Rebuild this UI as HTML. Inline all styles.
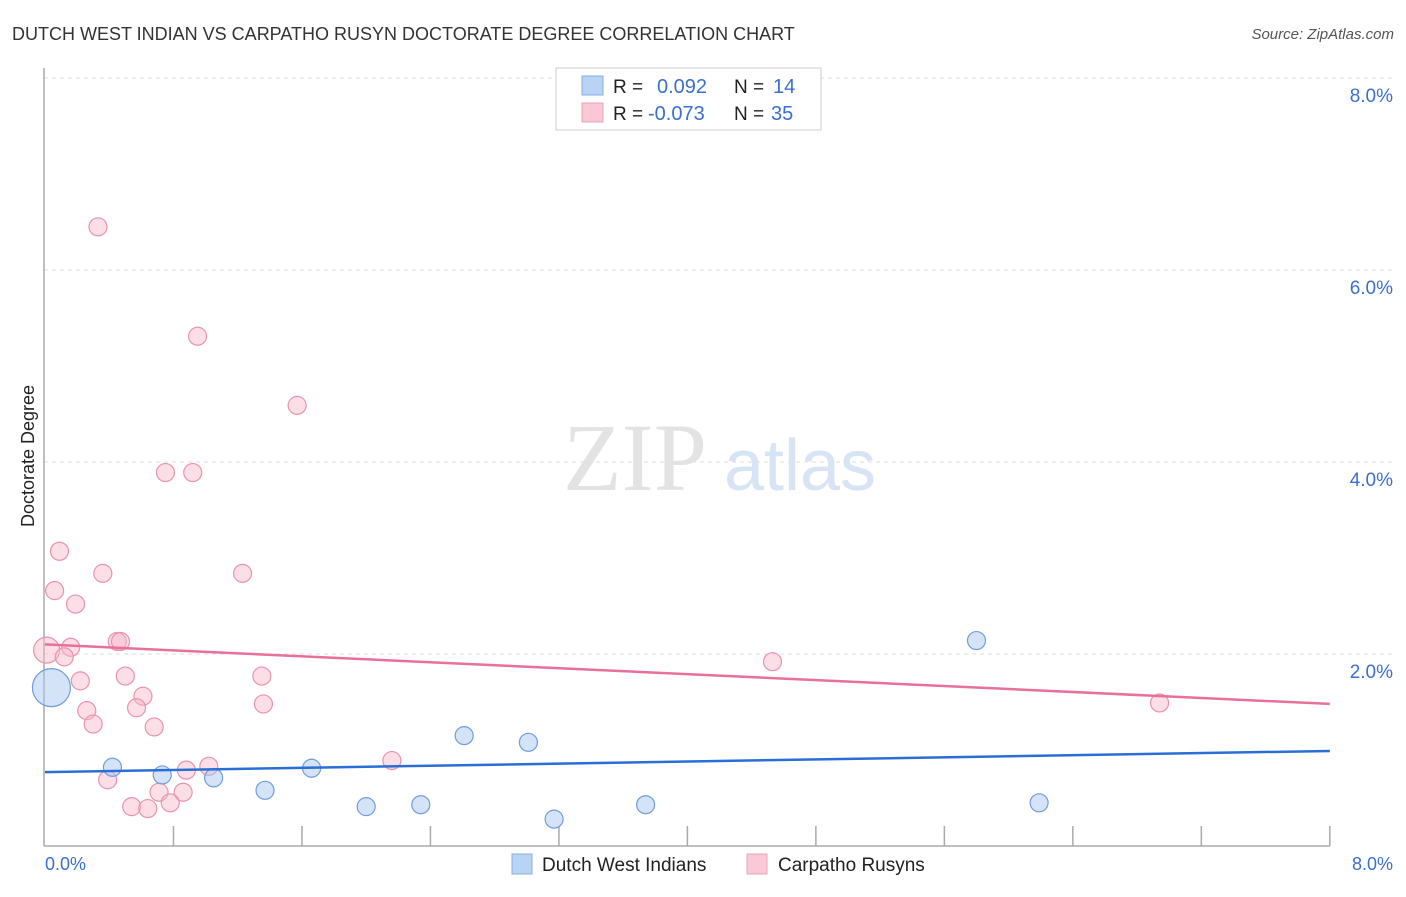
<!DOCTYPE html>
<html><head><meta charset="utf-8">
<style>
body{margin:0;background:#fff;font-family:"Liberation Sans",sans-serif;}
svg text{font-family:"Liberation Sans",sans-serif;}
</style></head>
<body>
<svg width="1406" height="892" viewBox="0 0 1406 892">
<text x="12" y="40" font-size="18" fill="#333">DUTCH WEST INDIAN VS CARPATHO RUSYN DOCTORATE DEGREE CORRELATION CHART</text>
<text x="1394" y="39" font-size="15" fill="#555" text-anchor="end" font-style="italic">Source: ZipAtlas.com</text>
<g id="grid"></g>
<g>
<text x="635" y="490" font-size="96" fill="#e3e3e3" text-anchor="middle" font-family="Liberation Serif" style="font-family:'Liberation Serif',serif">ZIP</text>
<text x="800" y="490" font-size="72" fill="#d6e4f5" text-anchor="middle">atlas</text>
</g>
<line x1="44" y1="68" x2="44" y2="846" stroke="#aaa" stroke-width="1.5"/>
<line x1="44" y1="846" x2="1330" y2="846" stroke="#aaa" stroke-width="1.5"/>
<g id="xticks"></g>
<g id="ylabels"></g>
<text x="45" y="870" font-size="18" fill="#3b6fd0">0.0%</text>
<text x="1393" y="870" font-size="18" fill="#3b6fd0" text-anchor="end">8.0%</text>
<text transform="translate(34,456) rotate(-90)" font-size="18" fill="#222" text-anchor="middle">Doctorate Degree</text>
<g id="pink"></g>
<g id="blue"></g>
<g id="trends"></g>
<g>
<rect x="556" y="68" width="265" height="62" fill="#fff" stroke="#ccc"/>
<rect x="582" y="76" width="21" height="19" fill="#b9d3f5" stroke="#88aee3"/>
<rect x="582" y="103" width="21" height="19" fill="#fbc8d7" stroke="#eda2ba"/>
<text x="613" y="93" font-size="19" fill="#222">R =</text>
<text x="657" y="93" font-size="20" fill="#3b6fd0">0.092</text>
<text x="734" y="93" font-size="19" fill="#222">N =</text>
<text x="773" y="93" font-size="20" fill="#3b6fd0">14</text>
<text x="613" y="120" font-size="19" fill="#222">R =</text>
<text x="648" y="120" font-size="20" fill="#3b6fd0">-0.073</text>
<text x="734" y="120" font-size="19" fill="#222">N =</text>
<text x="771" y="120" font-size="20" fill="#3b6fd0">35</text>
</g>
<g>
<rect x="512" y="854" width="20" height="20" fill="#b9d3f5" stroke="#88aee3"/>
<text x="542" y="871" font-size="19" fill="#222">Dutch West Indians</text>
<rect x="747" y="854" width="20" height="20" fill="#fbc8d7" stroke="#eda2ba"/>
<text x="778" y="871" font-size="19" fill="#222">Carpatho Rusyns</text>
</g>
</svg>
<script>
const yTicks=[2,4,6,8];
const yTickLabels=["2.0%","4.0%","6.0%","8.0%"];
const blueX=[0.04,5.80,2.61,3.01,0.42,1.66,0.73,1.05,1.37,2.00,2.34,3.74,6.19,3.17];
const blueY=[1.65,2.14,1.15,1.08,0.82,0.81,0.74,0.71,0.58,0.41,0.43,0.43,0.45,0.28];
const blueR=[19,9,9,9,9,9,9,9,9,9,9,9,9,9];
const pinkX=[0.33,0.95,1.57,0.75,0.92,0.09,0.36,1.23,0.06,0.19,0.45,0.47,0.01,0.16,0.12,4.53,0.22,0.50,1.35,0.61,0.57,1.36,6.94,0.26,0.30,0.68,2.16,0.88,1.02,0.39,0.71,0.86,0.78,0.54,0.64];
const pinkY=[6.45,5.31,4.59,3.89,3.89,3.07,2.84,2.84,2.66,2.52,2.13,2.13,2.04,2.07,1.97,1.92,1.72,1.77,1.77,1.56,1.44,1.48,1.49,1.41,1.27,1.24,0.89,0.79,0.83,0.69,0.56,0.56,0.45,0.41,0.39];
const pinkR=[9,9,9,9,9,9,9,9,9,9,9,9,13,9,9,9,9,9,9,9,9,9,9,9,9,9,9,9,9,9,9,9,9,9,9];
const blueTrend=[0.77,0.99];
const pinkTrend=[2.10,1.48];
const NS="http://www.w3.org/2000/svg";
const sx=v=>45+v*160.6;
const sy=v=>846-v*96;
function mk(tag,attrs,parent){const e=document.createElementNS(NS,tag);for(const k in attrs)e.setAttribute(k,attrs[k]);parent.appendChild(e);return e;}
const grid=document.getElementById('grid'),yl=document.getElementById('ylabels');
yTicks.forEach((t,i)=>{
 const l=mk('line',{x1:44,x2:1394,y1:sy(t),y2:sy(t),stroke:'#ddd','stroke-dasharray':'4,4'},grid);
 
 
 const tx=mk('text',{x:1393,y:sy(t)+24,'font-size':19,fill:'#3b6fd0','text-anchor':'end'},yl);
 tx.textContent=yTickLabels[i];
 
 
});
const xt=document.getElementById('xticks');
for(let i=1;i<=10;i++){const x=sx(i*0.8);
 const l=mk('line',{x1:x,x2:x,y1:826,y2:846,stroke:'#aaa','stroke-width':1.5},xt);
 
 }
const pg=document.getElementById('pink');
pinkX.forEach((x,i)=>{const c=mk('circle',{cx:sx(x),cy:sy(pinkY[i]),r:pinkR[i],fill:'rgba(248,182,202,0.45)',stroke:'#e993ae','stroke-width':1.2},pg);
 
 });
const bg=document.getElementById('blue');
blueX.forEach((x,i)=>{const c=mk('circle',{cx:sx(x),cy:sy(blueY[i]),r:blueR[i],fill:'rgba(170,200,242,0.5)',stroke:'#6f9ddd','stroke-width':1.2},bg);
 
 });
const tg=document.getElementById('trends');
const bl=mk('line',{x1:sx(0),x2:sx(8),y1:sy(blueTrend[0]),y2:sy(blueTrend[1]),stroke:'#2a6fd6','stroke-width':2.5},tg);


const pl=mk('line',{x1:sx(0),x2:sx(8),y1:sy(pinkTrend[0]),y2:sy(pinkTrend[1]),stroke:'#e8709a','stroke-width':2.5},tg);


</script>
</body></html>
